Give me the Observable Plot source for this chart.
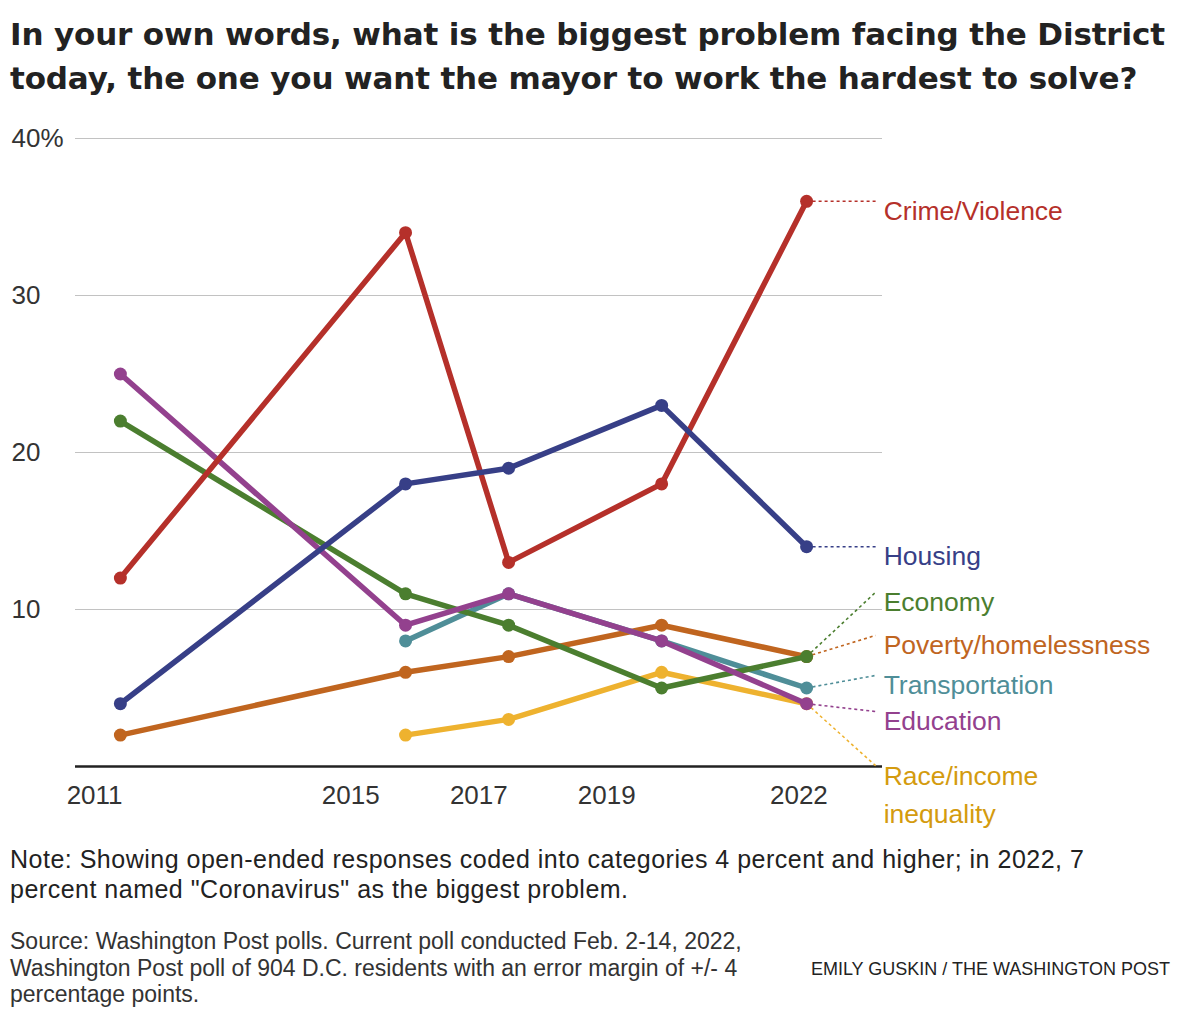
<!DOCTYPE html>
<html>
<head>
<meta charset="utf-8">
<script src="https://cdn.jsdelivr.net/npm/d3@7"></script>
<script src="https://cdn.jsdelivr.net/npm/@observablehq/plot@0.6"></script>
<style>
  html, body { margin: 0; padding: 0; background: #fff; }
  #wrap { position: relative; width: 1180px; height: 1020px; font-family: "Liberation Sans", Arial, sans-serif; color: #222; }
  #title { position: absolute; left: 10px; top: 12px; font-family: "DejaVu Sans", sans-serif; font-size: 31px; line-height: 44px; font-weight: bold; color: #222; white-space: nowrap; }
  #title span { display: block; }
  #chart { position: absolute; left: 0; top: 110px; }
  #note { position: absolute; left: 10px; top: 844px; font-size: 25px; line-height: 30px; color: #222; white-space: nowrap; letter-spacing: 0.5px; }
  #source { position: absolute; left: 10px; top: 928px; font-size: 23px; line-height: 26.5px; color: #333; white-space: nowrap; }
  #credit { position: absolute; right: 10px; top: 958px; font-size: 18px; line-height: 22px; color: #222; white-space: nowrap; }
</style>
</head>
<body>
<div id="wrap">
  <div id="title"><span id="t1">In your own words, what is the biggest problem facing the District</span><span id="t2">today, the one you want the mayor to work the hardest to solve?</span></div>
  <div id="chart"></div>
  <div id="note">Note: Showing open-ended responses coded into categories 4 percent and higher; in 2022, 7<br>percent named "Coronavirus" as the biggest problem.</div>
  <div id="source">Source: Washington Post polls. Current poll conducted Feb. 2-14, 2022,<br>Washington Post poll of 904 D.C. residents with an error margin of +/- 4<br>percentage points.</div>
  <div id="credit">EMILY GUSKIN / THE WASHINGTON POST</div>
</div>
<script>
// ---- Data ----
const pollDates = ["2011-05-28", "2015-11-10", "2017-06-20", "2019-11-10", "2022-02-14"];
const xTickYears = [2011, 2015, 2017, 2019, 2022];
const yTicks = [10, 20, 30, 40];

const crime = [12, 34, 13, 18, 36];
const housing = [4, 18, 19, 23, 14];
const economy = [22, 11, 9, 5, 7];
const poverty = [2, 6, 7, 9, 7];
const transportation = [null, 8, 11, 8, 5];
const education = [25, 9, 11, 8, 4];
const race = [null, 2, 3, 6, 4];

// draw order (bottom to top)
const seriesNames = ["Race/income inequality", "Poverty/homelessness", "Transportation", "Economy", "Education", "Crime/Violence", "Housing"];
const seriesValues = [race, poverty, transportation, economy, education, crime, housing];
const seriesColors = ["#eeb22f", "#c0651f", "#4f8e98", "#4b7e2f", "#93418e", "#b5302a", "#373f87"];
const labelColors = ["#d49b0e", "#c0651f", "#4f8e98", "#4b7e2f", "#93418e", "#b5302a", "#373f87"];
const labelTexts = ["Race/income\ninequality", "Poverty/homelessness", "Transportation", "Economy", "Education", "Crime/Violence", "Housing"];
// label anchor positions (y in chart units) for the end labels – layout
const labelAnchorY = [0.05, 8.35, 5.8, 11.1, 3.5, 36, 14];
const labelAnchorDate = new Date("2023-03-15");

// ---- Build ----
const rowsBySeries = seriesNames.map((name, s) =>
  pollDates.map((d, i) => ({category: name, date: new Date(d), value: seriesValues[s][i]}))
    .filter(r => r.value != null)
);

const labels = seriesNames.map((name, s) => {
  const rows = rowsBySeries[s];
  const last = rows[rows.length - 1];
  return {name, text: labelTexts[s], color: labelColors[s], lineColor: seriesColors[s],
          x1: last.date, y1: last.value, x2: labelAnchorDate, y2: labelAnchorY[s]};
});

const marks = [
  Plot.ruleY(yTicks, {stroke: "#c2c2c2", strokeWidth: 1}),
  Plot.ruleY([0], {stroke: "#222", strokeWidth: 2.5}),
  Plot.text(yTicks, {y: d => d, frameAnchor: "left", dx: -64, textAnchor: "start",
    text: d => d === 40 ? "40%" : String(d), fontSize: 26, fill: "#333"}),
  Plot.text(xTickYears, {x: d => new Date(Date.UTC(d, 0, 1)), frameAnchor: "bottom", dy: 29,
    text: d => String(d), fontSize: 26, fill: "#333", lineAnchor: "middle"}),
  Plot.link(labels, {x1: "x1", y1: "y1", x2: "x2", y2: "y2", stroke: d => d.lineColor,
    strokeWidth: 1.6, strokeDasharray: "3,3"})
];

rowsBySeries.forEach((rows, s) => {
  marks.push(Plot.line(rows, {x: "date", y: "value", stroke: seriesColors[s], strokeWidth: 5.5, strokeLinejoin: "round"}));
  marks.push(Plot.dot(rows, {x: "date", y: "value", r: 6.5, fill: seriesColors[s], stroke: "none"}));
});

const singleLine = labels.filter(d => !d.text.includes("\n"));
const multiLine = labels.filter(d => d.text.includes("\n"));
marks.push(Plot.text(singleLine, {x: "x2", y: "y2", text: "text", fill: d => d.color, dx: 8, dy: 10,
  textAnchor: "start", lineAnchor: "middle", fontSize: 26.5}));
marks.push(Plot.text(multiLine, {x: "x2", y: "y2", text: "text", fill: d => d.color, dx: 8, dy: -8,
  textAnchor: "start", lineAnchor: "top", lineHeight: 1.45, fontSize: 26.5}));

const chart = Plot.plot({
  width: 1180,
  height: 725,
  marginLeft: 75,
  marginRight: 298,
  marginTop: 28,
  marginBottom: 69,
  style: {fontFamily: "'Liberation Sans', Arial, sans-serif", background: "transparent", overflow: "visible"},
  x: {type: "utc", domain: [new Date("2010-09-14"), new Date("2023-04-23")], axis: null},
  y: {domain: [0, 40], axis: null},
  marks
});
document.getElementById("chart").appendChild(chart);

// fit title line 1 to the reference width
(function fitTitle() {
  const t1 = document.getElementById("t1");
  const t2 = document.getElementById("t2");
  const r = document.createRange();
  r.selectNodeContents(t1);
  const w = r.getBoundingClientRect().width;
  const target = 1155;
  const n = t1.textContent.length - 1;
  const ls = Math.max(-1, Math.min(3, (target - w) / n));
  t1.style.letterSpacing = ls + "px";
  t2.style.letterSpacing = ls + "px";
})();
</script>
</body>
</html>
